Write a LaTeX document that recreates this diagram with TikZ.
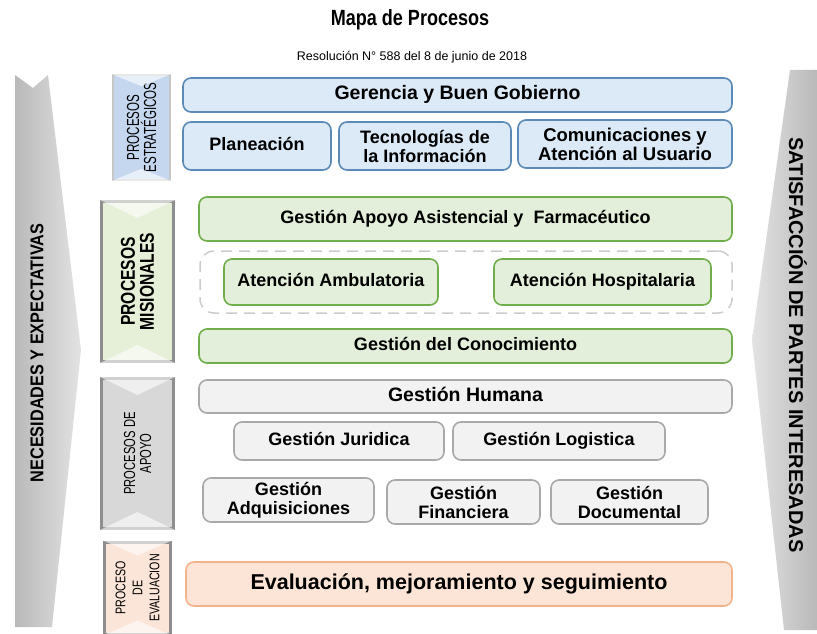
\documentclass[tikz,border=0pt]{standalone}
\usepackage{fontspec}
\setmainfont{Liberation Sans}
\newcommand{\narrowfont}[2]{\fontspec[FakeStretch=#1]{Liberation Sans}\fontsize{#2}{#2}\selectfont}
\usetikzlibrary{calc}
\definecolor{bluefill}{HTML}{DCE9F7}
\definecolor{blueline}{HTML}{5A8AB5}
\definecolor{greenfill}{HTML}{E3EFDA}
\definecolor{greenline}{HTML}{6FAE4A}
\definecolor{grayfill}{HTML}{F2F2F2}
\definecolor{grayline}{HTML}{A9A9A9}
\definecolor{orangefill}{HTML}{FCE4D6}
\definecolor{orangeline}{HTML}{F2B38A}
\definecolor{framegray}{HTML}{8E8E8E}
\definecolor{catblue}{HTML}{C4D7EF}
\definecolor{catgreen}{HTML}{E6EFD8}
\definecolor{catgray}{HTML}{D8D8D8}
\definecolor{catorange}{HTML}{FBE5D8}
\tikzstyle{proc}=[shape=rectangle,rounded corners=8pt,line width=1.6pt,align=center,inner sep=0pt,font=\bfseries\fontsize{18}{19}\selectfont]
\tikzstyle{oneline}=[text height=13pt,text depth=4pt]
\tikzstyle{bluebox}=[proc,draw=blueline,fill=bluefill]
\tikzstyle{greenbox}=[proc,draw=greenline,fill=greenfill]
\tikzstyle{graybox}=[proc,draw=grayline,fill=grayfill]
\tikzstyle{orangebox}=[proc,draw=orangeline,fill=orangefill]
\tikzstyle{cat}=[shape=rectangle,rotate=90,align=center,inner sep=0pt,draw=framegray,line width=3pt]
\newcommand{\bevel}[2]{%
  \fill[white,opacity=.6] (#1.north east) -- (#1.south east) -- ($(#1.east)+(0,#2)$) -- cycle;
  \fill[white,opacity=.6] (#1.north west) -- (#1.south west) -- ($(#1.west)+(0,-#2)$) -- cycle;
}

\begin{document}
\begin{tikzpicture}[x=1pt,y=-1pt]
        \useasboundingbox (0,0) rectangle (817,634);
        % side arrows
        \shade[left color=gray!55,right color=gray!22] (15,75) -- (33,88) -- (48,75) -- (81,350) -- (52,627) -- (15,627) -- cycle;
        \shade[left color=gray!22,right color=gray!55] (790,70) -- (817,70) -- (817,630) -- (784,630) -- (752,340) -- cycle;
        \node[rotate=90,font={\bfseries\narrowfont{0.88}{18.5}}] (necesidades) at (37,353) {NECESIDADES Y EXPECTATIVAS};
        \node[rotate=-90,font={\bfseries\fontsize{20}{20}\selectfont}] (satisfaccion) at (798,345) {SATISFACCIÓN DE PARTES INTERESADAS};
        % titles
        \node[font={\bfseries\narrowfont{0.82}{22}}] (title) at (410,20) {Mapa de Procesos};
        \node[font=\fontsize{12.5}{12.5}\selectfont] (resolucion) at (412,57) {Resolución N° 588 del 8 de junio de 2018};
        % process categories
        \node[cat,fill=catblue,draw=gray!45,line width=1.5pt,minimum width=105pt,minimum height=57pt,
            font={\narrowfont{0.66}{17.5}\baselineskip=17pt}] (estrat) at (141.5,127.5) {PROCESOS\\ESTRATÉGICOS};
        \node[cat,fill=catgreen,minimum width=160pt,minimum height=72pt,
            font={\bfseries\narrowfont{0.78}{20}\baselineskip=19pt}] (misional) at (137.5,281.5) {PROCESOS\\MISIONALES};
        \node[cat,fill=catgray,minimum width=150pt,minimum height=72pt,
            font={\narrowfont{0.7}{16}\baselineskip=16pt}] (apoyo) at (137.5,453.5) {PROCESOS DE\\APOYO};
        \node[cat,fill=catorange,minimum width=92pt,minimum height=66pt,
            font={\narrowfont{0.76}{14}\baselineskip=17pt}] (evalcat) at (137.5,588) {PROCESO\\DE\\EVALUACION};
        \bevel{estrat}{12}
        \bevel{misional}{18}
        \bevel{apoyo}{18}
        \bevel{evalcat}{15}
        % estrategicos
        \node[bluebox,oneline,minimum width=549pt,minimum height=34pt,font=\bfseries\fontsize{19.5}{20}\selectfont] (gerencia) at (457.5,95) {Gerencia y Buen Gobierno};
        \node[bluebox,oneline,minimum width=148pt,minimum height=48pt] (planeacion) at (257,146) {Planeación};
        \node[bluebox,minimum width=172pt,minimum height=48pt] (tecnologias) at (425,146) {Tecnologías de\\la Información};
        \node[bluebox,minimum width=214pt,minimum height=48pt,font=\bfseries\fontsize{18.5}{19}\selectfont] (comunicaciones) at (625,144) {Comunicaciones y\\Atención al Usuario};
        % misionales
        \node[greenbox,oneline,minimum width=533pt,minimum height=44pt] (asistencial) at (465.5,219) {Gestión Apoyo Asistencial y\ \ Farmacéutico};
        \node[draw=gray!40,dashed,dash pattern=on 11pt off 7pt,line width=1.5pt,rounded corners=14pt,
            minimum width=532pt,minimum height=62pt] (atencion) at (466,282) {};
        \node[greenbox,oneline,minimum width=214pt,minimum height=46pt] (ambulatoria) at (331,282) {Atención Ambulatoria};
        \node[greenbox,oneline,minimum width=217pt,minimum height=46pt] (hospitalaria) at (602.5,282) {Atención Hospitalaria};
        \node[greenbox,oneline,minimum width=533pt,minimum height=34pt] (conocimiento) at (465.5,346) {Gestión del Conocimiento};
        % apoyo
        \node[graybox,oneline,minimum width=533pt,minimum height=33pt,font=\bfseries\fontsize{19.5}{20}\selectfont] (humana) at (465.5,396.5) {Gestión Humana};
        \node[graybox,oneline,minimum width=210pt,minimum height=38pt] (juridica) at (339,441) {Gestión Juridica};
        \node[graybox,oneline,minimum width=212pt,minimum height=38pt] (logistica) at (559,441) {Gestión Logistica};
        \node[graybox,minimum width=171pt,minimum height=44pt] (adquisiciones) at (288.5,500) {Gestión\\Adquisiciones};
        \node[graybox,minimum width=153pt,minimum height=44pt] (financiera) at (463.5,502) {Gestión\\Financiera};
        \node[graybox,minimum width=157pt,minimum height=44pt] (documental) at (629.5,502) {Gestión\\Documental};
        % evaluacion
        \node[orangebox,oneline,minimum width=546pt,minimum height=44pt,font=\bfseries\fontsize{21.5}{22}\selectfont,text height=15pt,text depth=5pt] (evaluacion) at (459,584) {Evaluación, mejoramiento y seguimiento};
    \end{tikzpicture}
\end{document}
